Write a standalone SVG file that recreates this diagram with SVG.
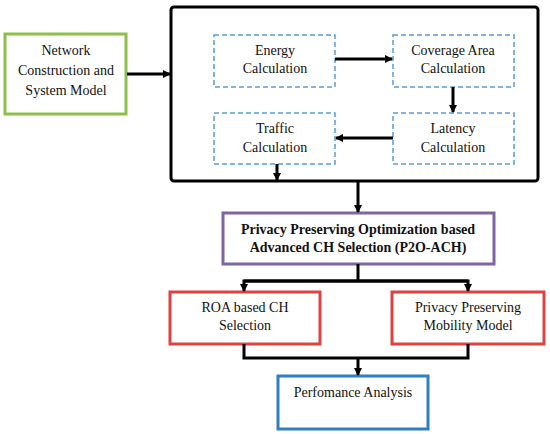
<svg xmlns="http://www.w3.org/2000/svg" width="550" height="434" viewBox="0 0 550 434">
<defs>
<marker id="ah" markerWidth="8" markerHeight="8" refX="7" refY="4" orient="auto" markerUnits="userSpaceOnUse"><path d="M0,0 L8,4 L0,8 Z" fill="#000"/></marker>
</defs>
<style>
text{font-family:"Liberation Serif","Times New Roman",serif;font-size:14px;fill:#111;text-anchor:middle}
.b{font-weight:bold}
.dash{fill:#fff;stroke:#5B9BD5;stroke-width:1.5;stroke-dasharray:5,3}
.ln{fill:none;stroke:#000;stroke-width:3}
</style>
<rect width="550" height="434" fill="#fff"/>
<g id="network"><rect x="5" y="34" width="121" height="80" fill="#fff" stroke="#8DC04B" stroke-width="3"/>
<text x="66" y="55">Network</text><text x="66" y="75">Construction and</text><text x="66" y="95">System Model</text></g>
<g id="container"><rect x="171" y="7" width="367" height="174" rx="3" fill="#fff" stroke="#000" stroke-width="3"/></g>
<g id="energy"><rect class="dash" x="214" y="35" width="121" height="52"/><text x="275" y="55">Energy</text><text x="275" y="73">Calculation</text></g>
<g id="coverage"><rect class="dash" x="393" y="35" width="121" height="52"/><text x="453" y="55">Coverage Area</text><text x="453" y="73">Calculation</text></g>
<g id="traffic"><rect class="dash" x="214" y="113" width="121" height="51"/><text x="275" y="133">Traffic</text><text x="275" y="152">Calculation</text></g>
<g id="latency"><rect class="dash" x="393" y="113" width="121" height="51"/><text x="453" y="133">Latency</text><text x="453" y="152">Calculation</text></g>
<g id="p2oach"><rect x="223" y="213" width="271" height="51" fill="#fff" stroke="#8064A2" stroke-width="3"/>
<text class="b" x="358" y="234">Privacy Preserving Optimization based</text><text class="b" x="358" y="252">Advanced CH Selection (P2O-ACH)</text></g>
<g id="roa"><rect x="170" y="292" width="150" height="52" fill="#fff" stroke="#E04040" stroke-width="3"/><text x="245" y="312">ROA based CH</text><text x="245" y="330">Selection</text></g>
<g id="mobility"><rect x="392" y="292" width="152" height="52" fill="#fff" stroke="#E04040" stroke-width="3"/><text x="468" y="312">Privacy Preserving</text><text x="468" y="330">Mobility Model</text></g>
<g id="performance"><rect x="278" y="376" width="150" height="53" fill="#fff" stroke="#2F7FC1" stroke-width="3"/><text x="353" y="397">Perfomance Analysis</text></g>
<g id="connectors">
<line class="ln" x1="127" y1="74" x2="170" y2="74" marker-end="url(#ah)"/>
<line class="ln" x1="335" y1="59" x2="392" y2="59" marker-end="url(#ah)"/>
<line class="ln" x1="453" y1="87" x2="453" y2="112" marker-end="url(#ah)"/>
<line class="ln" x1="393" y1="138" x2="336" y2="138" marker-end="url(#ah)"/>
<line class="ln" x1="277" y1="164" x2="277" y2="180" marker-end="url(#ah)"/>
<line class="ln" x1="358" y1="181" x2="358" y2="212" marker-end="url(#ah)"/>
<line class="ln" x1="358" y1="264" x2="358" y2="281"/>
<path class="ln" d="M468,281 L244,281 L244,291" marker-end="url(#ah)"/>
<path class="ln" d="M244,281 L468,281 L468,291" marker-end="url(#ah)"/>
<path class="ln" d="M244,344 L244,358 L468,358 L468,344"/>
<line class="ln" x1="358" y1="358" x2="358" y2="375" marker-end="url(#ah)"/>
</g>
</svg>
